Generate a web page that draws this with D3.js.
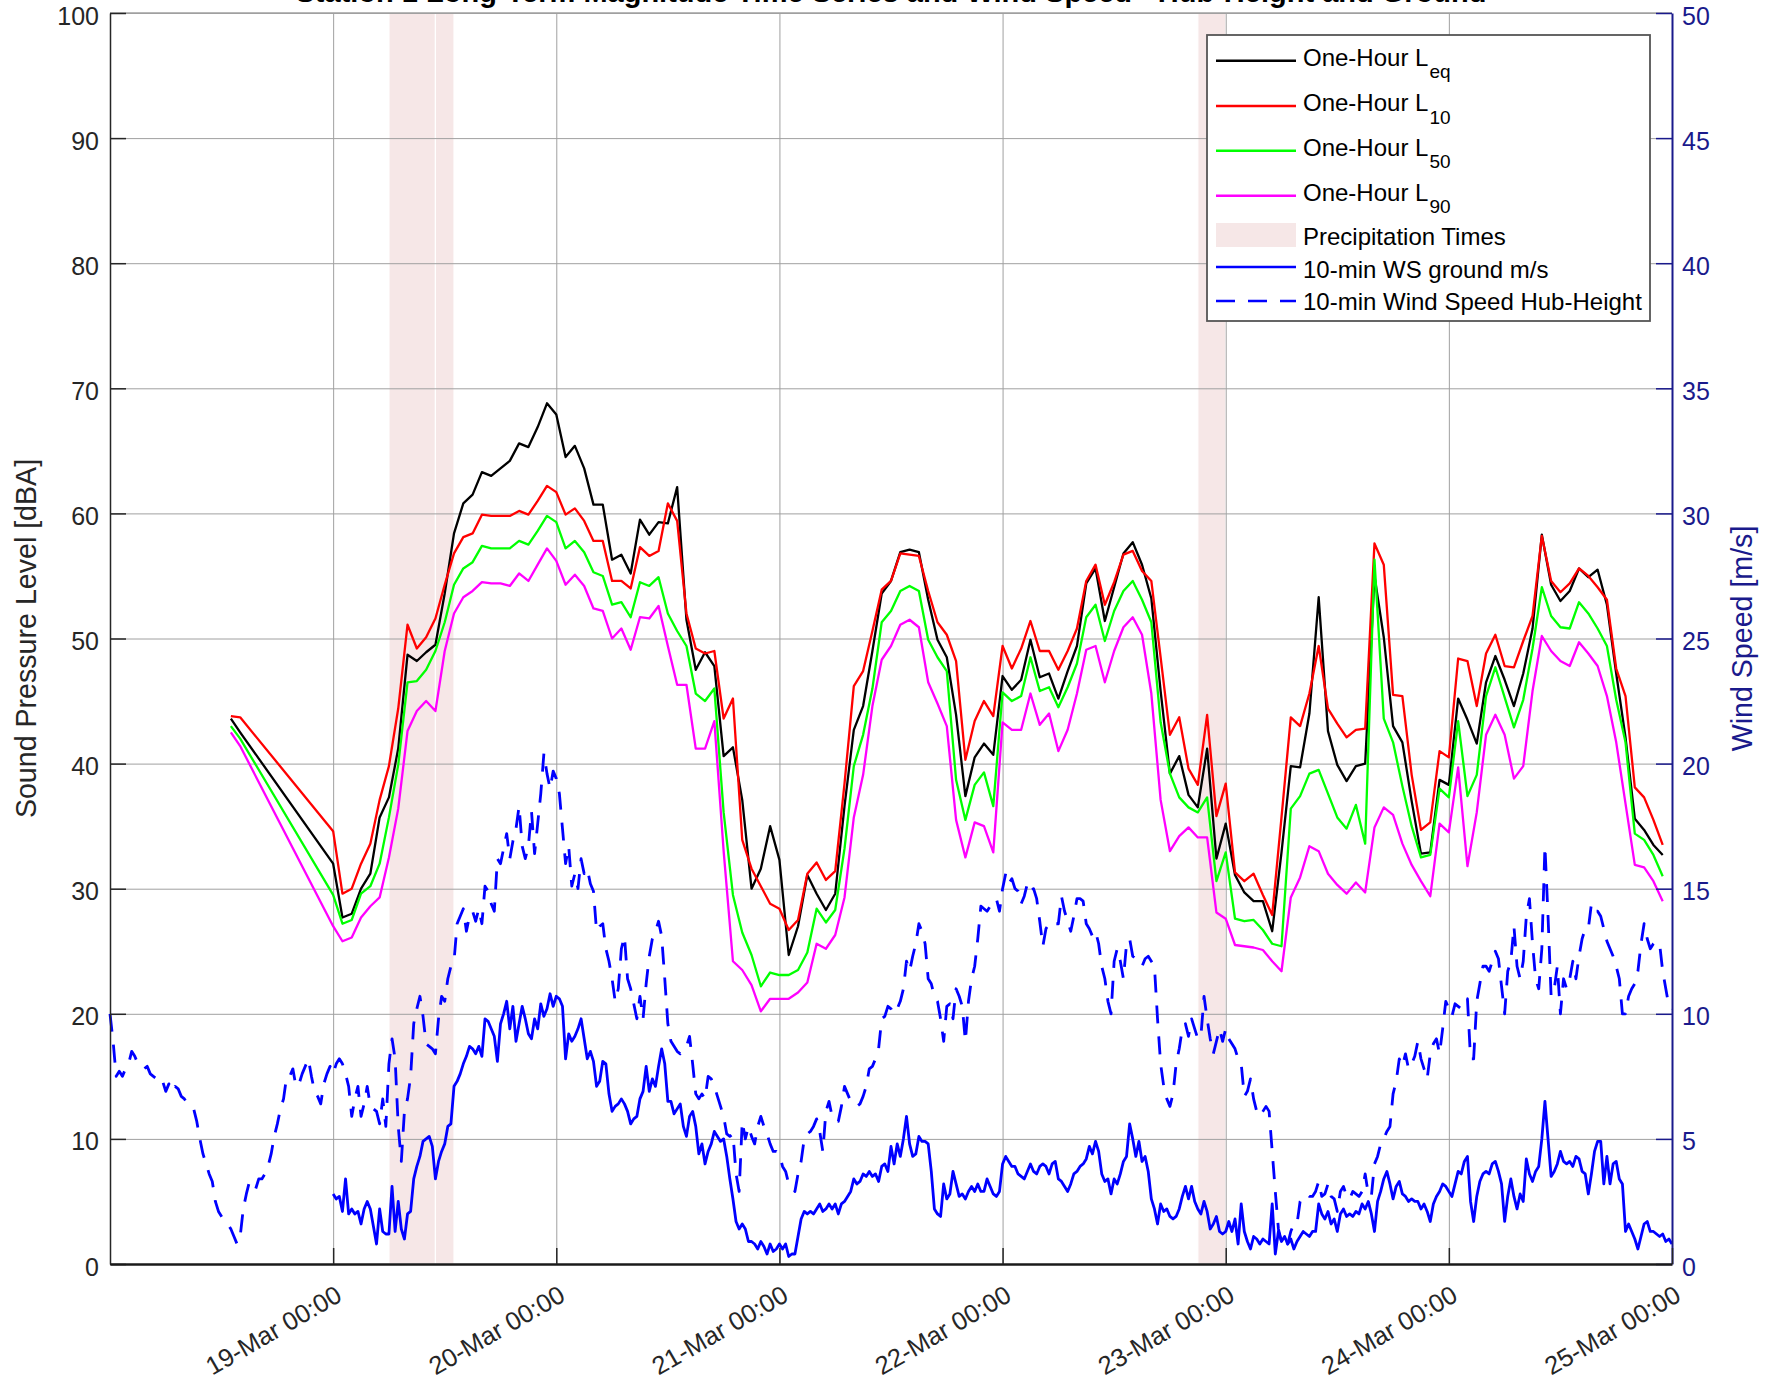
<!DOCTYPE html>
<html><head><meta charset="utf-8">
<script src="https://cdn.jsdelivr.net/npm/d3@7"></script>
<style>
html,body{margin:0;padding:0;background:#fff;}
svg{display:block;font-family:"Liberation Sans",Arial,Helvetica,sans-serif;}
</style></head><body>
<svg id="chart" width="1781" height="1385"></svg>
<script>
// ---------------- DATA ----------------
const titleText = "Station 1 Long-Term Magnitude Time Series and Wind Speed - Hub-Height and Ground";
const xDomain = ["2023-03-18T00:00:00Z", "2023-03-25T00:00:00Z"];
const dayTicks = ["2023-03-19T00:00:00Z","2023-03-20T00:00:00Z","2023-03-21T00:00:00Z","2023-03-22T00:00:00Z","2023-03-23T00:00:00Z","2023-03-24T00:00:00Z","2023-03-25T00:00:00Z"];
const dayTickLabels = ["19-Mar 00:00","20-Mar 00:00","21-Mar 00:00","22-Mar 00:00","23-Mar 00:00","24-Mar 00:00","25-Mar 00:00"];
const leftTicks = [0,10,20,30,40,50,60,70,80,90,100];
const rightTicks = [0,5,10,15,20,25,30,35,40,45,50];
const precipitation = [
  ["2023-03-19T06:00:00Z","2023-03-19T11:00:00Z"],
  ["2023-03-19T11:00:00Z","2023-03-19T13:00:00Z"],
  ["2023-03-22T21:00:00Z","2023-03-23T00:00:00Z"]
];
// hourly sound levels, starting 18-Mar 13:00 (null = no measurement)
const soundStart = "2023-03-18T13:00:00Z";
const N9 = [null,null,null,null,null,null,null,null,null];
const leq = [43.6,42.5,...N9,
 32.0,27.7,28.0,30.0,31.2,35.7,37.3,41.2,48.7,48.2,48.9,49.5,53.6,58.4,60.8,61.5,63.3,63.0,63.6,64.2,65.6,65.3,66.9,68.8,
 67.9,64.5,65.4,63.6,60.7,60.7,56.3,56.7,55.2,59.5,58.3,59.3,59.2,62.1,51.5,47.5,48.9,47.8,40.6,41.3,37.1,30.0,31.6,35.0,
 32.3,24.7,27.0,31.1,29.6,28.3,29.6,36.6,42.7,44.6,49.0,53.6,54.6,56.9,57.1,56.9,53.1,49.9,48.5,43.9,37.4,40.5,41.6,40.7,
 47.0,45.9,46.7,49.9,46.9,47.2,45.2,47.4,49.4,54.4,55.6,51.4,54.1,56.8,57.7,55.9,53.2,45.8,39.2,40.6,37.5,36.5,41.2,32.4,
 35.2,31.1,29.7,29.0,29.0,26.6,32.9,39.8,39.7,44.0,53.3,42.6,39.9,38.6,39.8,40.0,55.0,50.1,43.0,41.7,37.0,32.8,32.9,38.7,
 38.3,45.2,43.5,41.6,46.5,48.6,46.7,44.6,47.2,50.8,58.3,54.3,53.0,53.8,55.6,54.9,55.5,52.7,47.2,42.1,35.6,34.7,33.5,32.7];
const l10 = [43.8,43.7,...N9,
 34.6,29.6,30.0,32.0,33.6,37.1,39.8,44.4,51.1,49.2,50.1,51.6,54.3,56.8,58.1,58.4,59.9,59.8,59.8,59.8,60.2,59.9,61.0,62.2,
 61.7,59.9,60.4,59.4,57.8,57.8,54.6,54.6,54.0,57.3,56.6,57.0,60.8,59.4,52.0,49.2,48.8,49.0,43.6,45.2,33.9,31.6,30.2,28.8,
 28.4,26.7,27.5,31.2,32.1,30.7,31.4,38.4,46.2,47.4,50.6,53.9,54.6,56.8,56.7,56.6,53.8,51.3,50.3,48.2,40.3,43.4,45.0,43.8,
 49.4,47.6,49.2,51.4,49.0,49.0,47.5,49.0,50.8,54.6,55.9,52.7,54.5,56.7,57.0,55.4,54.6,48.5,42.3,43.7,39.6,38.3,43.9,35.8,
 38.4,31.3,30.6,31.2,29.5,27.9,35.7,43.7,43.0,45.6,49.4,44.4,43.2,42.1,42.7,42.8,57.6,55.9,45.5,45.4,39.1,34.7,35.3,41.0,
 40.5,48.4,48.2,44.6,48.8,50.3,47.8,47.7,49.8,51.8,58.2,54.6,53.7,54.4,55.6,55.0,54.1,53.1,47.6,45.4,38.1,37.3,35.5,33.5];
const l50 = [43.0,42.0,...N9,
 29.5,27.2,27.5,29.6,30.2,32.0,35.7,39.9,46.5,46.6,47.5,49.0,51.3,54.3,55.6,56.1,57.4,57.2,57.2,57.2,57.8,57.5,58.6,59.8,
 59.3,57.2,57.8,56.9,55.3,55.0,52.7,52.9,51.7,54.5,54.2,54.9,52.0,50.6,49.4,45.6,45.0,46.0,36.1,29.5,26.5,24.7,22.2,23.3,
 23.1,23.1,23.5,24.9,28.4,27.3,28.3,33.2,39.8,42.3,46.0,51.3,52.2,53.8,54.2,53.8,49.9,48.5,47.4,38.7,35.5,38.3,39.3,36.6,
 45.7,45.0,45.4,48.5,45.8,46.1,44.5,46.1,48.0,51.7,52.7,49.8,52.2,53.8,54.6,53.1,51.3,43.3,39.2,37.3,36.5,36.1,37.3,30.6,
 32.9,27.6,27.4,27.5,26.7,25.6,25.4,36.4,37.4,39.2,39.5,37.6,35.7,34.8,36.7,33.6,56.3,43.6,41.7,38.2,35.0,32.5,32.7,38.0,
 37.3,43.4,37.4,39.1,45.4,47.7,45.3,42.9,45.1,49.2,54.1,51.8,50.9,50.8,52.9,52.0,50.8,49.4,45.1,41.7,34.4,33.9,32.7,31.0];
const l90 = [42.5,41.4,...N9,
 27.0,25.8,26.1,27.7,28.6,29.3,32.5,36.4,42.6,44.2,45.0,44.2,49.0,52.0,53.3,53.8,54.5,54.4,54.4,54.2,55.2,54.6,55.9,57.2,
 56.2,54.3,55.1,54.2,52.4,52.2,50.0,50.8,49.1,51.7,51.6,52.6,49.4,46.3,46.3,41.2,41.2,43.4,33.0,24.2,23.5,22.3,20.2,21.2,
 21.2,21.2,21.7,22.5,25.6,25.2,26.3,29.3,35.7,39.1,44.6,48.3,49.4,51.1,51.5,50.9,46.5,44.8,43.0,35.5,32.5,35.3,35.0,32.9,
 43.3,42.7,42.7,45.6,43.1,44.0,41.0,42.7,45.6,49.1,49.4,46.5,49.0,50.9,51.7,50.3,45.6,37.1,33.0,34.2,34.9,34.1,34.1,28.1,
 27.6,25.5,25.4,25.3,25.1,24.2,23.4,29.3,30.9,33.4,33.0,31.2,30.3,29.6,30.5,29.7,34.9,36.5,35.9,33.6,31.9,30.6,29.4,35.2,
 34.5,39.7,31.8,36.1,42.3,43.9,42.3,38.8,39.8,45.8,50.2,49.0,48.2,47.8,49.7,48.8,47.8,45.4,41.7,36.8,31.9,31.7,30.6,29.0];

// wind speed [m/s], one value every 20 minutes
const windStepMinutes = 20;
const hubStart = "2023-03-18T00:00:00Z";
const windHub = [
 10.0,8.9,7.5,7.7,7.5,7.8,8.0,8.5,8.3,8.0,7.9,7.8,7.9,7.6,7.5,7.4,7.2,7.3,6.9,7.2,6.9,7.1,7.0,6.7,6.6,6.4,6.3,6.2,5.7,5.0,4.4,4.0,3.6,3.3,2.5,2.1,
 1.9,1.7,1.6,1.4,1.1,0.8,1.1,2.2,2.8,3.3,3.1,3.0,3.4,3.4,3.6,3.9,4.4,5.1,5.6,6.2,6.6,7.5,7.5,7.8,7.1,7.2,7.6,7.9,8.2,7.5,6.9,6.7,6.4,7.2,7.6,7.9,
 7.6,8.0,8.2,8.0,7.6,7.1,5.9,6.6,7.1,5.9,6.4,7.1,6.3,6.2,
 6.1,5.6,6.6,5.5,8.0,9.0,8.2,5.5,4.1,6.1,6.6,7.5,9.6,10.2,
 10.7,9.9,8.8,8.7,8.6,8.4,9.8,10.7,10.5,11.4,11.9,12.1,13.6,13.9,
 14.2,13.3,13.9,14.1,13.7,14.2,13.6,15.1,14.9,14.4,14.1,16.2,16.0,16.6,
 17.2,16.2,16.9,17.4,18.3,16.7,16.2,16.7,18.1,16.4,17.6,18.8,20.4,19.6,
 19.0,19.7,19.4,18.8,17.4,16.0,16.7,15.1,15.6,15.0,16.2,15.6,15.8,15.2,
 14.9,13.3,13.5,13.6,12.6,12.1,11.4,10.5,11.0,12.6,13.1,11.4,11.0,10.4,
 9.8,10.7,9.8,11.2,12.3,13.0,13.3,13.7,13.1,11.4,9.6,8.9,8.7,8.5,
 8.4,8.6,8.7,9.1,8.0,6.8,6.6,6.8,6.6,7.5,7.4,7.1,6.7,6.3,
 5.9,5.2,5.1,5.2,3.6,2.9,5.7,5.0,5.5,5.1,4.8,5.5,5.9,5.5,
 5.2,4.8,4.5,4.5,
 4.4,3.9,3.7,3.2,3.1,2.9,3.6,4.1,5.0,5.2,5.3,5.5,5.8,5.3,4.5,6.1,6.5,5.9,5.7,5.7,
 6.3,7.1,6.8,6.5,6.4,6.3,6.4,6.7,7.1,7.8,7.9,8.2,8.6,9.8,9.9,10.3,10.2,10.0,10.2,10.5,
 11.0,12.1,11.7,12.3,12.8,13.6,13.3,12.8,11.4,11.2,10.7,10.5,9.8,8.9,10.3,10.4,9.8,11.0,10.7,10.3,
 8.9,10.5,11.4,11.9,13.0,14.3,14.2,14.1,14.3,14.5,14.6,14.1,15.0,15.6,15.2,15.4,15.0,14.9,14.4,14.7,
 15.2,14.9,15.0,14.6,13.7,12.7,13.4,13.6,13.7,13.6,13.6,14.7,14.1,13.7,13.3,13.9,14.6,14.6,14.5,13.6,
 13.4,13.1,13.3,12.8,11.9,11.4,10.5,10.0,12.1,12.6,12.1,11.4,12.8,13.0,12.3,12.2,12.1,11.9,12.2,12.3,
 12.1,11.9,9.8,8.0,7.1,6.6,6.3,6.8,8.0,8.6,9.4,9.6,9.1,9.8,9.4,9.0,9.1,10.7,9.8,9.0,
 8.4,8.9,9.4,8.9,
 9.4,9.0,8.8,8.6,8.2,8.0,6.7,6.9,7.4,6.6,6.1,5.9,6.1,6.3,6.1,4.5,2.9,1.4,0.9,1.1,
 0.8,1.3,1.6,1.6,2.5,2.7,2.8,2.7,2.7,2.9,3.3,2.7,2.8,3.2,2.7,2.6,2.1,2.9,3.1,2.7,
 2.6,2.9,2.8,2.7,2.9,3.6,2.8,2.7,4.0,4.3,4.8,5.0,5.3,5.5,6.8,7.3,8.2,7.9,8.4,7.8,
 8.0,8.3,8.9,8.2,7.8,7.4,8.4,8.8,9.0,8.4,9.4,10.5,10.2,9.9,10.4,10.3,10.2,10.5,10.6,8.2,
 8.2,10.5,11.2,11.9,11.9,11.7,12.1,12.5,12.2,11.1,10.0,11.7,12.1,13.5,11.9,11.4,12.1,13.9,14.6,12.8,
 11.4,11.0,12.6,16.7,13.9,10.7,11.0,11.9,10.0,11.4,11.0,11.4,12.1,11.4,12.3,13.0,13.4,13.4,14.4,14.1,
 14.1,13.9,13.4,12.9,12.6,12.3,11.9,11.4,10.0,10.0,10.7,11.0,11.2,11.7,12.8,13.6,13.0,12.6,12.8,12.9,
 12.8,11.7,11.0,10.3,10.2];
const groundStart = "2023-03-19T00:00:00Z";
const windGround = [
 2.8,2.6,2.7,2.1,3.4,2.0,2.2,2.0,2.1,1.6,2.2,2.5,2.2,1.5,
 0.8,2.2,1.3,1.2,1.2,3.1,1.3,2.5,1.4,1.0,2.0,2.1,3.4,3.9,
 4.3,4.9,5.0,5.1,4.7,3.4,4.1,4.5,4.8,5.5,5.6,7.1,7.3,7.6,
 8.0,8.3,8.7,8.6,8.4,8.7,8.3,9.8,9.7,9.4,9.1,8.1,9.6,10.0,
 10.5,9.4,10.3,8.9,9.6,10.3,9.8,9.2,9.0,9.8,9.4,10.4,9.9,10.2,
 10.8,10.3,10.7,10.6,10.3,8.2,9.2,8.9,9.1,9.4,9.8,9.0,8.2,8.5,
 8.1,7.1,7.3,8.1,8.0,6.8,6.1,6.3,6.4,6.6,6.4,6.1,5.6,5.8,
 5.9,6.6,6.9,7.9,6.9,7.4,7.1,7.9,8.6,8.0,6.5,6.5,6.0,6.2,
 6.4,5.5,5.1,5.9,6.1,5.5,4.4,4.8,4.0,4.5,4.8,5.3,5.1,4.9,
 5.0,4.3,3.4,2.6,1.7,1.4,1.6,1.4,0.9,0.9,0.8,0.6,0.9,0.7,
 0.4,0.8,0.5,0.6,
 0.8,0.6,0.8,0.3,0.4,0.4,1.1,1.8,2.1,2.0,2.1,2.0,2.2,2.4,2.1,2.2,2.4,2.2,2.4,2.0,
 2.4,2.5,2.7,2.9,3.4,3.2,3.3,3.6,3.5,3.7,3.5,3.6,3.3,3.9,4.0,3.7,4.7,4.0,4.8,4.3,
 5.0,5.9,4.8,4.3,4.4,5.1,4.9,4.9,4.8,3.7,2.2,2.0,1.9,3.2,2.6,2.8,3.7,3.2,2.7,2.8,
 2.6,2.9,3.1,2.9,3.2,2.9,2.9,3.4,3.1,2.8,2.7,2.9,4.0,4.3,4.1,3.9,3.9,3.6,3.5,3.4,
 3.7,4.0,3.7,3.6,3.9,4.0,3.9,3.6,4.0,4.1,3.4,3.3,3.1,2.9,3.2,3.6,3.7,3.9,4.0,4.2,
 4.7,4.4,4.9,4.5,3.6,3.3,3.4,2.8,3.4,3.2,3.6,4.1,4.3,5.6,5.0,4.3,4.9,4.1,4.3,3.7,
 2.6,2.2,1.6,2.4,2.1,2.2,1.9,1.8,1.9,2.2,2.7,3.1,2.6,3.1,2.5,2.2,2.0,2.5,2.1,1.4,
 1.6,1.9,1.3,1.2,
 1.3,1.7,1.3,1.8,0.8,2.4,1.3,0.9,0.6,1.1,1.0,0.8,1.0,0.9,0.8,2.4,0.4,1.3,0.9,1.1,
 0.8,1.0,0.6,0.9,1.1,1.3,1.2,1.1,1.3,1.3,2.4,2.0,1.8,2.1,1.6,1.8,1.3,2.0,2.2,1.9,
 2.0,1.9,2.1,2.0,2.4,2.2,2.5,2.0,1.3,2.5,2.9,3.4,3.7,3.2,2.6,3.1,3.3,2.8,2.7,2.5,
 2.6,2.5,2.5,2.2,2.4,2.1,1.7,2.4,2.7,2.9,3.2,3.1,2.9,2.7,3.2,3.7,3.6,4.1,4.3,2.5,
 1.7,2.7,3.3,3.6,3.7,3.6,4.0,4.1,3.7,3.2,1.7,2.7,3.4,2.7,2.2,2.8,2.5,4.2,3.6,3.3,
 3.7,3.9,5.0,6.5,5.0,3.5,3.7,4.0,4.5,4.1,4.0,4.1,3.9,4.3,4.2,3.7,3.6,2.8,3.6,4.5,
 4.9,4.9,3.2,4.3,3.2,4.0,4.1,3.4,3.2,1.3,1.6,1.3,1.0,0.6,1.1,1.6,1.7,1.3,1.3,1.2,
 1.1,1.2,0.9,1.0,0.8];

const legendLabels = [
  {main:"One-Hour L", sub:"eq", color:"#000000", kind:"line"},
  {main:"One-Hour L", sub:"10", color:"#ff0000", kind:"line"},
  {main:"One-Hour L", sub:"50", color:"#00ff00", kind:"line"},
  {main:"One-Hour L", sub:"90", color:"#ff00ff", kind:"line"},
  {main:"Precipitation Times", sub:"", color:"#f6e7e7", kind:"rect"},
  {main:"10-min WS ground m/s", sub:"", color:"#0000ff", kind:"line"},
  {main:"10-min Wind Speed Hub-Height", sub:"", color:"#0000ff", kind:"dash"}
];

// ---------------- DRAW ----------------
const svg = d3.select("#chart");
const L = 110, R = 1672, T = 13, B = 1264;
const axisColor = "#262626", navy = "#1a1a8c", gridColor = "#a0a0a0", pink = "#f6e7e7";
const parse = s => new Date(s);

const x = d3.scaleUtc().domain(xDomain.map(parse)).range([L, R]);
const yL = d3.scaleLinear().domain([0, 100]).range([B, T]);
const yR = d3.scaleLinear().domain([0, 50]).range([B, T]);

// precipitation
svg.append("g").selectAll("rect").data(precipitation).join("rect")
  .attr("x", d => x(parse(d[0]))).attr("y", T)
  .attr("width", d => x(parse(d[1])) - x(parse(d[0]))).attr("height", B - T)
  .attr("fill", pink).attr("stroke", "#fff").attr("stroke-width", 1.2);

// grid
const grid = svg.append("g");
grid.append("g").attr("transform", `translate(0,${B})`)
  .call(d3.axisBottom(x).tickValues(dayTicks.slice(0, -1).map(parse)).tickSize(-(B - T)).tickFormat(""))
  .call(g => { g.select(".domain").remove(); g.selectAll("line").attr("stroke", gridColor).attr("stroke-width", 1); });
grid.append("g").attr("transform", `translate(${L},0)`)
  .call(d3.axisLeft(yL).tickValues(leftTicks.slice(1)).tickSize(-(R - L)).tickFormat(""))
  .call(g => { g.select(".domain").remove(); g.selectAll("line").attr("stroke", gridColor).attr("stroke-width", 1); });

// series helpers
const hourMs = 3600e3;
function soundSeries(arr) {
  const t0 = parse(soundStart).getTime();
  return arr.map((v, i) => ({t: new Date(t0 + i * hourMs), v})).filter(d => d.v !== null);
}
function windSeries(arr, start) {
  const t0 = parse(start).getTime();
  return arr.map((v, i) => ({t: new Date(t0 + i * windStepMinutes * 60e3), v}));
}
const lineL = d3.line().x(d => x(d.t)).y(d => yL(d.v));
const lineR = d3.line().x(d => x(d.t)).y(d => yR(d.v));

const plot = svg.append("g");
plot.append("path").datum(windSeries(windHub, hubStart)).attr("d", lineR)
  .attr("fill", "none").attr("stroke", "#0000ff").attr("stroke-width", 2.8)
  .attr("stroke-dasharray", "18,13").attr("stroke-linejoin", "round");
plot.append("path").datum(windSeries(windGround, groundStart)).attr("d", lineR)
  .attr("fill", "none").attr("stroke", "#0000ff").attr("stroke-width", 2.8).attr("stroke-linejoin", "round");
[[leq, "#000000"], [l10, "#ff0000"], [l50, "#00ff00"], [l90, "#ff00ff"]].forEach(([arr, c]) => {
  plot.append("path").datum(soundSeries(arr)).attr("d", lineL)
    .attr("fill", "none").attr("stroke", c).attr("stroke-width", 2.3).attr("stroke-linejoin", "round");
});

// top border
svg.append("line").attr("x1", L).attr("x2", R).attr("y1", T).attr("y2", T)
  .attr("stroke", gridColor).attr("stroke-width", 1.5);

// left axis
const gl = svg.append("g").attr("transform", `translate(${L},0)`)
  .call(d3.axisLeft(yL).tickValues(leftTicks).tickSizeInner(-16).tickSizeOuter(0).tickPadding(11));
gl.select(".domain").attr("stroke", axisColor).attr("stroke-width", 1.5);
gl.selectAll(".tick line").attr("stroke", axisColor).attr("stroke-width", 1.5);
gl.selectAll(".tick text").attr("fill", axisColor).attr("font-size", 25).attr("dy", 11)
  .style("font-family", "Liberation Sans, Arial, sans-serif");

// right axis
const gr = svg.append("g").attr("transform", `translate(${R},0)`)
  .call(d3.axisRight(yR).tickValues(rightTicks).tickSizeInner(-16).tickSizeOuter(0).tickPadding(10));
gr.select(".domain").attr("stroke", navy).attr("stroke-width", 2);
gr.selectAll(".tick line").attr("stroke", navy).attr("stroke-width", 1.5);
gr.selectAll(".tick text").attr("fill", navy).attr("font-size", 25).attr("dy", 11)
  .style("font-family", "Liberation Sans, Arial, sans-serif");

// bottom axis
const gb = svg.append("g").attr("transform", `translate(0,${B})`)
  .call(d3.axisBottom(x).tickValues(dayTicks.map(parse)).tickSizeInner(-16).tickSizeOuter(0)
    .tickFormat((d, i) => dayTickLabels[i]));
gb.select(".domain").attr("stroke", "#1a1a1a").attr("stroke-width", 2.5);
gb.selectAll(".tick line").attr("stroke", axisColor).attr("stroke-width", 1.5);
gb.selectAll(".tick text").attr("fill", axisColor).attr("font-size", 25.5)
  .attr("y", 0).attr("dy", 0).attr("text-anchor", "end")
  .attr("transform", "translate(10,36) rotate(-30)")
  .style("font-family", "Liberation Sans, Arial, sans-serif");

// axis titles
svg.append("text").attr("transform", `translate(36,${(T + B) / 2}) rotate(-90)`)
  .attr("text-anchor", "middle").attr("font-size", 28.6).attr("fill", axisColor)
  .text("Sound Pressure Level [dBA]");
svg.append("text").attr("transform", `translate(1752,${(T + B) / 2}) rotate(-90)`)
  .attr("text-anchor", "middle").attr("font-size", 28.6).attr("fill", navy)
  .text("Wind Speed [m/s]");

// title (cut off by the top edge, as in the original figure)
svg.append("text").attr("x", (L + R) / 2).attr("y", 1.5).attr("text-anchor", "middle")
  .attr("font-size", 29).attr("font-weight", "bold").attr("fill", "#000").text(titleText);

// legend
const lg = svg.append("g");
lg.append("rect").attr("x", 1207).attr("y", 35).attr("width", 443).attr("height", 286)
  .attr("fill", "#fff").attr("stroke", "#555").attr("stroke-width", 1.8);
const rowY = [60.7, 106, 150.7, 195.7, 235, 267, 301];
const textDy = [5, 5, 5, 5, 10, 11, 9];
legendLabels.forEach((d, i) => {
  const y = rowY[i];
  if (d.kind === "rect") {
    lg.append("rect").attr("x", 1216).attr("y", y - 12).attr("width", 80).attr("height", 24).attr("fill", d.color);
  } else {
    lg.append("line").attr("x1", 1216).attr("x2", 1296).attr("y1", y).attr("y2", y)
      .attr("stroke", d.color).attr("stroke-width", 2.4)
      .attr("stroke-dasharray", d.kind === "dash" ? "19,13" : null);
  }
  const t = lg.append("text").attr("x", 1303).attr("y", y + textDy[i]).attr("font-size", 24).attr("fill", "#000");
  t.append("tspan").text(d.main);
  if (d.sub) t.append("tspan").attr("font-size", 19).attr("dy", 12.5).attr("dx", 1).text(d.sub);
});
</script>
</body></html>
